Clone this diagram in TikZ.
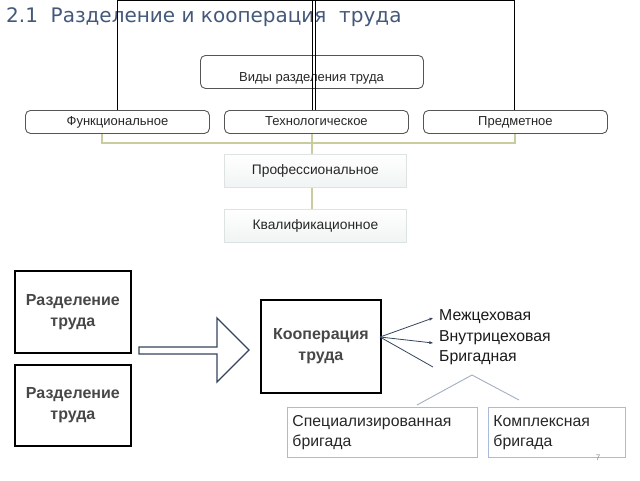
\documentclass[tikz,border=0pt]{standalone}
\usepackage{fontspec}
\setmainfont{Liberation Sans}
\newfontfamily\titlefont{DejaVu Sans}
\usetikzlibrary{arrows.meta}
\definecolor{titleblue}{HTML}{44597A}
\definecolor{olive}{HTML}{C9CD9E}
\definecolor{rborder}{HTML}{555555}
\definecolor{lightfill}{HTML}{F1F4F4}
\definecolor{lightborder}{HTML}{DDE3E3}
\definecolor{navy}{HTML}{33445E}
\definecolor{bluebox}{HTML}{A9BBD9}
\definecolor{caret}{HTML}{A3AEBF}
\tikzset{
  rbox/.style={draw=rborder, line width=0.9pt, rounded corners=5pt, inner sep=0pt, anchor=north west, minimum width=184pt, minimum height=23pt, text height=9.5pt, text depth=2.5pt, font=\fontsize{13}{15}\selectfont, text=black!85},
  gbox/.style={draw=lightborder, line width=0.8pt, top color=white, bottom color=lightfill, inner sep=0pt, anchor=north west, minimum width=182pt, minimum height=33pt, text height=9.5pt, text depth=2.5pt, font=\fontsize{13.8}{15}\selectfont, text=black!85},
  kbox/.style={draw=black, line width=1.8pt, inner sep=0pt, anchor=north west, align=center, font=\fontsize{16}{21}\selectfont\bfseries, text=black!72},
  bbox/.style={draw=bluebox, line width=0.9pt, inner sep=5pt, anchor=north west, align=left, font=\fontsize{15.8}{20}\selectfont, text=black!85},
  olivel/.style={draw=olive, line width=1.6pt},
  thinl/.style={draw=black, line width=0.7pt},
  coopl/.style={draw=navy, line width=0.8pt, -{Stealth[length=4pt,width=3pt]}},
  caretl/.style={draw=caret, line width=0.9pt},
  lbl/.style={anchor=west, inner sep=0pt, font=\fontsize{15.8}{18}\selectfont, text=black!90}
}
\begin{document}
\begin{tikzpicture}[x=1pt,y=-1pt]
\useasboundingbox (0,0) rectangle (640,480);
% title
\node[anchor=west, inner sep=0pt, text=titleblue, font=\titlefont\fontsize{20}{24}\selectfont] (title) at (6,17) {2.1\ \ Разделение и кооперация\ \ труда};
% stray top frame lines
\coordinate (t1) at (117,0);
\coordinate (t2) at (514.5,0);
\coordinate (t3) at (312,0);
\coordinate (t4) at (315.5,0);
% boxes
\node[rbox, minimum width=223pt, minimum height=33pt] (vid) at (200,55) {};
\node[inner sep=0pt, font=\fontsize{13}{15}\selectfont, text=black!85] (vidt) at (311.5,78) {Виды разделения труда};
\node[rbox] (func) at (25,110) {Функциональное};
\node[rbox] (tech) at (224,110) {Технологическое};
\node[rbox] (pred) at (423,110) {Предметное};
\draw[thinl] (func.north -| t1) -- (t1) -- (t2) -- (pred.north -| t2);
\draw[thinl] (t3) -- (tech.north -| t3);
\draw[thinl] (t4) -- (tech.north -| t4);
\node[gbox] (prof) at (224,154) {Профессиональное};
\node[gbox] (qual) at (224,209) {Квалификационное};
\coordinate (g1) at (102,143);
\coordinate (g2) at (515,143);
\coordinate (g3) at (312,143);
\draw[olivel] (func.south -| g1) -- (g1) -- (g2) -- (pred.south -| g2);
\draw[olivel] (tech.south -| g3) -- (prof.north -| g3);
\draw[olivel] (prof.south -| g3) -- (qual.north -| g3);
% bottom part
\node[kbox, minimum width=116pt, minimum height=82pt] (r1) at (14,270) {Разделение\\труда};
\node[kbox, minimum width=116pt, minimum height=81pt] (r2) at (14,364) {Разделение\\труда};
\node[kbox, minimum width=120pt, minimum height=93pt] (coop) at (260,299) {Кооперация\\труда};
\draw[navy, line width=1.3pt, fill=white] (139,347) -- (217,347) -- (217,318) -- (249,350) -- (217,382) -- (217,354) -- (139,354) -- cycle;
\node[lbl] (m1) at (439,317) {Межцеховая};
\node[lbl] (m2) at (439,338) {Внутрицеховая};
\node[lbl] (m3) at (439,358) {Бригадная};
\coordinate (c0) at (380,337);
\coordinate (e1) at (433,318);
\coordinate (e2) at (433,343);
\coordinate (e3) at (433,367);
\draw[coopl] (c0) -- (e1);
\draw[coopl] (c0) -- (e2);
\draw[coopl, -] (c0) -- (e3);
\node[bbox, text width=180pt, minimum height=50pt] (spec) at (287,407) {Специализированная\\бригада};
\node[bbox, text width=127pt, minimum height=50pt] (komp) at (488,407) {Комплексная\\бригада};
\coordinate (apex) at (472,375);
\coordinate (cl) at (417,405);
\coordinate (cr) at (519,400);
\draw[caretl] (cl) -- (apex) -- (cr);
\node[inner sep=0pt, text=black!45, font=\fontsize{8}{9}\selectfont] (pg) at (598,458) {7};
\end{tikzpicture}
\end{document}
